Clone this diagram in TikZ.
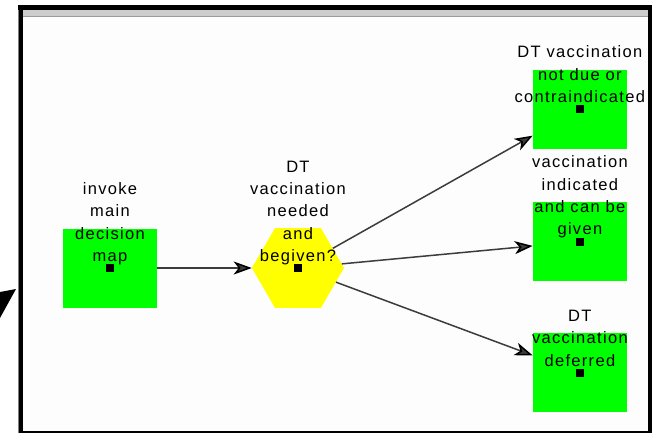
\documentclass[tikz,border=0pt]{standalone}
\usepackage{fontspec}
\setmainfont{Liberation Sans}
\newfontfamily\mapfont[LetterSpace=8]{Liberation Sans}
\usetikzlibrary{shapes,arrows.meta,positioning}

\definecolor{mapgreen}{HTML}{00FF00}
\definecolor{mapyellow}{HTML}{FFFF00}
\definecolor{linegray}{HTML}{3C3C3C}
\definecolor{paper}{HTML}{FDFDFD}
\definecolor{barlight}{HTML}{CDCDCD}
\definecolor{bardark}{HTML}{9C9C9C}

\begin{document}
\begin{tikzpicture}[x=1pt,y=-1pt]

  \tikzset{with dot/.style={path picture={\fill[black]
      ([shift={(-4pt,-4pt)}]path picture bounding box.center) rectangle ++(8pt,8pt);}}, }
  \tikzset{action node/.style={rectangle, fill=mapgreen, inner sep=0pt,
      minimum width=94pt, minimum height=79pt, with dot}, }
  \tikzset{decision node/.style={regular polygon, regular polygon sides=6,
      fill=mapyellow, inner sep=0pt, minimum size=92pt, with dot}, }
  \tikzset{caption/.style={align=center, inner sep=0pt, text depth=0pt,
      font=\mapfont\fontsize{16.5}{22.3}\selectfont}, }
  \tikzset{linea/.style={color=linegray, line width=1.5pt,
      -{Stealth[length=18pt, width=13pt, inset=5pt, color=black]}}, }

  \useasboundingbox (0,0) rectangle (652,433);

  % window frame
  \fill[paper] (23,10) rectangle (648,431);
  \fill[barlight] (23,10) rectangle (648,16);
  \fill[bardark] (23,16) rectangle (648,17.5);
  \fill[black] (18,5) rectangle (652,10.5);
  \fill[black] (19,5) rectangle (23.3,433);
  \fill[black] (648,5) rectangle (652,433);
  \fill[black] (19,430.5) rectangle (652,433);
  \fill[gray] (18,10) rectangle (19,433);
  \fill[black] (0,292) -- (16,289) -- (0,318) -- cycle;

  \node[action node] (map) at (110,268) {};
  \node[caption, above=6.5pt of map.center] (map text) {invoke\\main\\decision\\map};

  \node[decision node, right=94.5pt of map] (need) {};
  \node[caption, above=6.5pt of need.center] (need text) {DT\\vaccination\\needed\\and\\begiven?};

  \node[action node, right=188.5pt of need, yshift=26.5pt] (given) {};
  \node[action node, above=53pt of given] (notdue) {};
  \node[action node, below=52pt of given] (defer) {};
  \node[caption, above=6.5pt of notdue.center] (notdue text) {DT vaccination\\not due or\\contraindicated};
  \node[caption, above=6.5pt of given.center] (given text) {vaccination\\indicated\\and can be\\given};
  \node[caption, above=6.5pt of defer.center] (defer text) {DT\\vaccination\\deferred};
%
\foreach \x /\y in {map/need,need/notdue,need/given,need/defer}
  \path[linea] (\x) edge (\y);
%
\end{tikzpicture}
\end{document}
